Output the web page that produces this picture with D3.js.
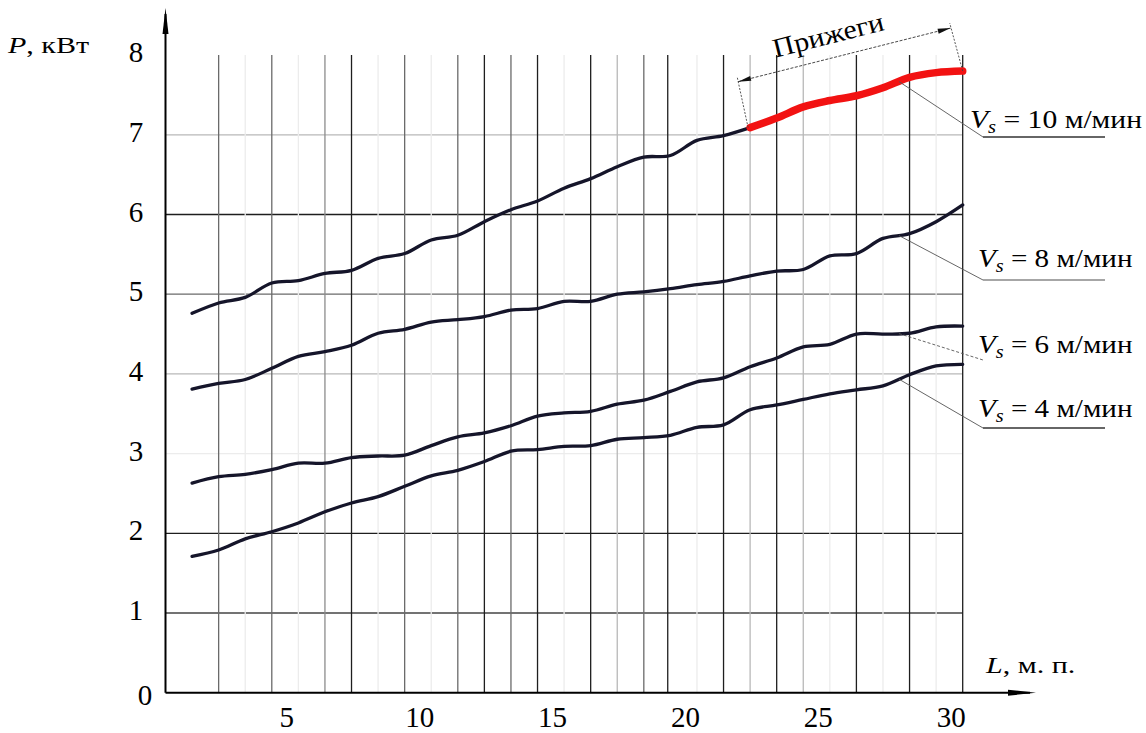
<!DOCTYPE html>
<html><head><meta charset="utf-8">
<script src="https://cdn.jsdelivr.net/npm/d3@7"></script>
<style>
body{margin:0;background:#fff}
svg{display:block}
text{font-family:"Liberation Serif","Times New Roman",serif;fill:#000}
</style>
</head><body>
<svg id="c" width="1146" height="733"></svg>
<script>
// ---------- data ----------
const lengths = d3.range(1, 31); // L, м. п.
const v4  = [1.71,1.79,1.93,2.02,2.13,2.27,2.38,2.46,2.59,2.72,2.79,2.90,3.03,3.05,3.09,3.10,3.18,3.20,3.23,3.33,3.36,3.55,3.61,3.68,3.75,3.80,3.85,3.99,4.10,4.12];
const v6  = [2.63,2.71,2.74,2.80,2.88,2.88,2.95,2.97,2.98,3.10,3.21,3.26,3.35,3.47,3.51,3.53,3.62,3.67,3.78,3.90,3.95,4.09,4.20,4.34,4.37,4.50,4.50,4.51,4.59,4.60];
const v8  = [3.81,3.88,3.93,4.07,4.22,4.28,4.36,4.51,4.56,4.65,4.68,4.72,4.80,4.82,4.91,4.91,5.00,5.03,5.07,5.12,5.16,5.23,5.29,5.31,5.48,5.51,5.70,5.76,5.91,6.12];
const v10 = [4.76,4.89,4.96,5.14,5.17,5.26,5.30,5.45,5.51,5.68,5.74,5.91,6.06,6.17,6.33,6.45,6.60,6.72,6.74,6.93,6.99,7.09,7.21,7.35,7.43,7.49,7.59,7.72,7.78,7.80];
const burnFrom = 22;               // start of «Прижеги» zone, L
const xTickValues = [5, 10, 15, 20, 25, 30];
const yTickValues = [0, 1, 2, 3, 4, 5, 6, 7, 8];
const vGridL    = [2,3,4,5,6,7,8,9,10,11,12,13,14,15,16,17,18,18.9,20,21,22,23,24,25,26,27,28,29,30];
const vGridTone = ['m','f','m','f','ml','d','f','m','f','m','d','m','d','f','d','l','m','d','f','d','l','d','l','f','d','f','d','f','d'];
const hGridP    = [1,2,3,4,5,6,7];
const hGridTone = ['md','d','f','l','m','d','l'];
const seriesSpeed = ['10','8','6','4'];
const unitLabel = ' м/мин';

// ---------- layout ----------
const svg = d3.select('#c');
const x = d3.scaleLinear().domain([0, 30]).range([165.5, 962.7]);
const y = d3.scaleLinear().domain([0, 8]).range([692.7, 55.1]);
const tones = {d:'#1e1e1e', md:'#444', m:'#6a6a6a', ml:'#8c8c8c', l:'#b8b8b8', f:'#ececec'};

// grid
svg.append('g').selectAll('line').data(hGridP).join('line')
  .attr('x1', x(0)).attr('x2', x(30))
  .attr('y1', d => y(d)).attr('y2', d => y(d))
  .attr('stroke', (d,i) => tones[hGridTone[i]]).attr('stroke-width', 1.3);
svg.append('g').selectAll('line').data(vGridL).join('line')
  .attr('x1', d => x(d)).attr('x2', d => x(d))
  .attr('y1', y(0)).attr('y2', y(8))
  .attr('stroke', (d,i) => tones[vGridTone[i]]).attr('stroke-width', 1.3);

// axes
const ax = svg.append('g');
ax.append('line').attr('x1', x(0)).attr('x2', x(0)).attr('y1', y(0)).attr('y2', 14)
  .attr('stroke', '#000').attr('stroke-width', 2);
ax.append('path').attr('d', `M${x(0)},8 L${x(0)-3},34 L${x(0)+3},34 Z`).attr('fill', '#000');
ax.append('line').attr('x1', x(0)).attr('x2', 1030).attr('y1', y(0)).attr('y2', y(0))
  .attr('stroke', '#000').attr('stroke-width', 2);
ax.append('path').attr('d', `M1036,${y(0)} L1008,${y(0)-3} L1008,${y(0)+3} Z`).attr('fill', '#000');

// tick labels
svg.append('g').selectAll('text').data(yTickValues).join('text')
  .attr('x', d => d === 0 ? 145 : 136)
  .attr('y', d => d === 0 ? y(d) + 12 : y(d) + 7)
  .attr('text-anchor', 'middle').attr('font-size', 29).text(d => d);
svg.append('g').selectAll('text').data(xTickValues).join('text')
  .attr('x', d => x(d) - 11.5).attr('y', 727)
  .attr('text-anchor', 'middle').attr('font-size', 29).text(d => d);

// helper for horizontally widened text
function wide(px, py, sx, size) {
  return svg.append('g').attr('transform', `translate(${px},${py}) scale(${sx},1)`)
    .append('text').attr('x', 0).attr('y', 0).attr('font-size', size);
}

// axis titles
const pt = wide(8, 53, 1.25, 24);
pt.append('tspan').attr('font-style', 'italic').text('P');
pt.append('tspan').text(', кВт');
const lt = wide(986, 673, 1.25, 24);
lt.append('tspan').attr('font-style', 'italic').text('L');
lt.append('tspan').text(', м. п.');

// curves
const line = d3.line().x(d => x(d.l)).y(d => y(d.p)).curve(d3.curveCatmullRom.alpha(0.5));
const series = [v10, v8, v6, v4].map(arr => lengths.map((l, i) => ({l, p: arr[i]})));
const cg = svg.append('g');
series.forEach((pts, k) => {
  const base = k === 0 ? pts.filter(d => d.l <= burnFrom) : pts;
  cg.append('path').attr('d', line(base)).attr('fill', 'none')
    .attr('stroke', '#15152a').attr('stroke-width', 3.3).attr('stroke-linecap', 'round');
});
const burn = series[0].filter(d => d.l >= burnFrom);
cg.append('path').attr('d', line(burn)).attr('fill', 'none')
  .attr('stroke', '#f21212').attr('stroke-width', 7.5).attr('stroke-linecap', 'round');

// series labels with leaders
const interp = (pts, l) => { const i = d3.bisector(d => d.l).left(pts, l); const a = pts[i-1], b = pts[i]; return a.p + (b.p - a.p) * (l - a.l) / (b.l - a.l); };
const labelBase = [128, 267, 353, 417];
const labelX = [970, 978, 978, 978];
const labelSx = [1.14, 1.12, 1.12, 1.12];
const leaderEndDy = [9, 13, 7, 11];
const underline = [true, true, false, true];
const ulColor = ['#333', '#888', '#000', '#333'];
const lg = svg.append('g');
series.forEach((pts, k) => {
  const l0 = 27.6;
  lg.append('line').attr('x1', x(l0)).attr('y1', y(interp(pts, l0)))
    .attr('x2', 983).attr('y2', labelBase[k] + leaderEndDy[k])
    .attr('stroke', '#555').attr('stroke-width', 0.9)
    .attr('stroke-dasharray', k === 2 ? '3,2' : null);
  if (underline[k]) lg.append('line').attr('x1', 983).attr('x2', 1105)
    .attr('y1', labelBase[k] + leaderEndDy[k]).attr('y2', labelBase[k] + leaderEndDy[k])
    .attr('stroke', ulColor[k]).attr('stroke-width', 1.4);
  const t = wide(labelX[k], labelBase[k], labelSx[k], 26);
  t.append('tspan').attr('font-style', 'italic').text('V');
  t.append('tspan').attr('font-style', 'italic').attr('font-size', 18).attr('dy', 5).text('s');
  t.append('tspan').attr('dy', -5).text(' = ' + seriesSpeed[k] + unitLabel);
});

// «Прижеги» dimension
const p1 = [x(burnFrom), y(interp(series[0], burnFrom))];
const p2 = [x(30), y(v10[v10.length-1])];
const a1 = [p1[0] - 12, p1[1] - 46];
const a2 = [p2[0] - 12, p2[1] - 43];
const dg = svg.append('g');
dg.append('line').attr('x1', p1[0]-2).attr('y1', p1[1]).attr('x2', a1[0]-1).attr('y2', a1[1]-5)
  .attr('stroke', '#444').attr('stroke-width', 0.9).attr('stroke-dasharray', '2,1.5');
dg.append('line').attr('x1', p2[0]).attr('y1', p2[1]).attr('x2', a2[0]-1).attr('y2', a2[1]-5)
  .attr('stroke', '#444').attr('stroke-width', 0.9).attr('stroke-dasharray', '2,1.5');
dg.append('line').attr('x1', a1[0]).attr('y1', a1[1]).attr('x2', a2[0]).attr('y2', a2[1])
  .attr('stroke', '#333').attr('stroke-width', 0.9).attr('stroke-dasharray', '3,1.5');
const ang = Math.atan2(a2[1]-a1[1], a2[0]-a1[0]);
function head(tip, dir) {
  const c = Math.cos(ang) * dir, s = Math.sin(ang) * dir;
  const bx = tip[0] - 13*c, by = tip[1] - 13*s;
  return `M${tip[0]},${tip[1]} L${bx - 2.5*s},${by + 2.5*c} L${bx + 2.5*s},${by - 2.5*c} Z`;
}
dg.append('path').attr('d', head(a1, -1)).attr('fill', '#111');
dg.append('path').attr('d', head(a2, 1)).attr('fill', '#111');
const mid = [(a1[0]+a2[0])/2 - 14, (a1[1]+a2[1])/2 - 11];
dg.append('text').attr('transform', `translate(${mid[0]},${mid[1]}) rotate(${ang*180/Math.PI}) scale(1.1,1)`)
  .attr('text-anchor', 'middle').attr('font-size', 27).text('Прижеги');
</script>
</body></html>
